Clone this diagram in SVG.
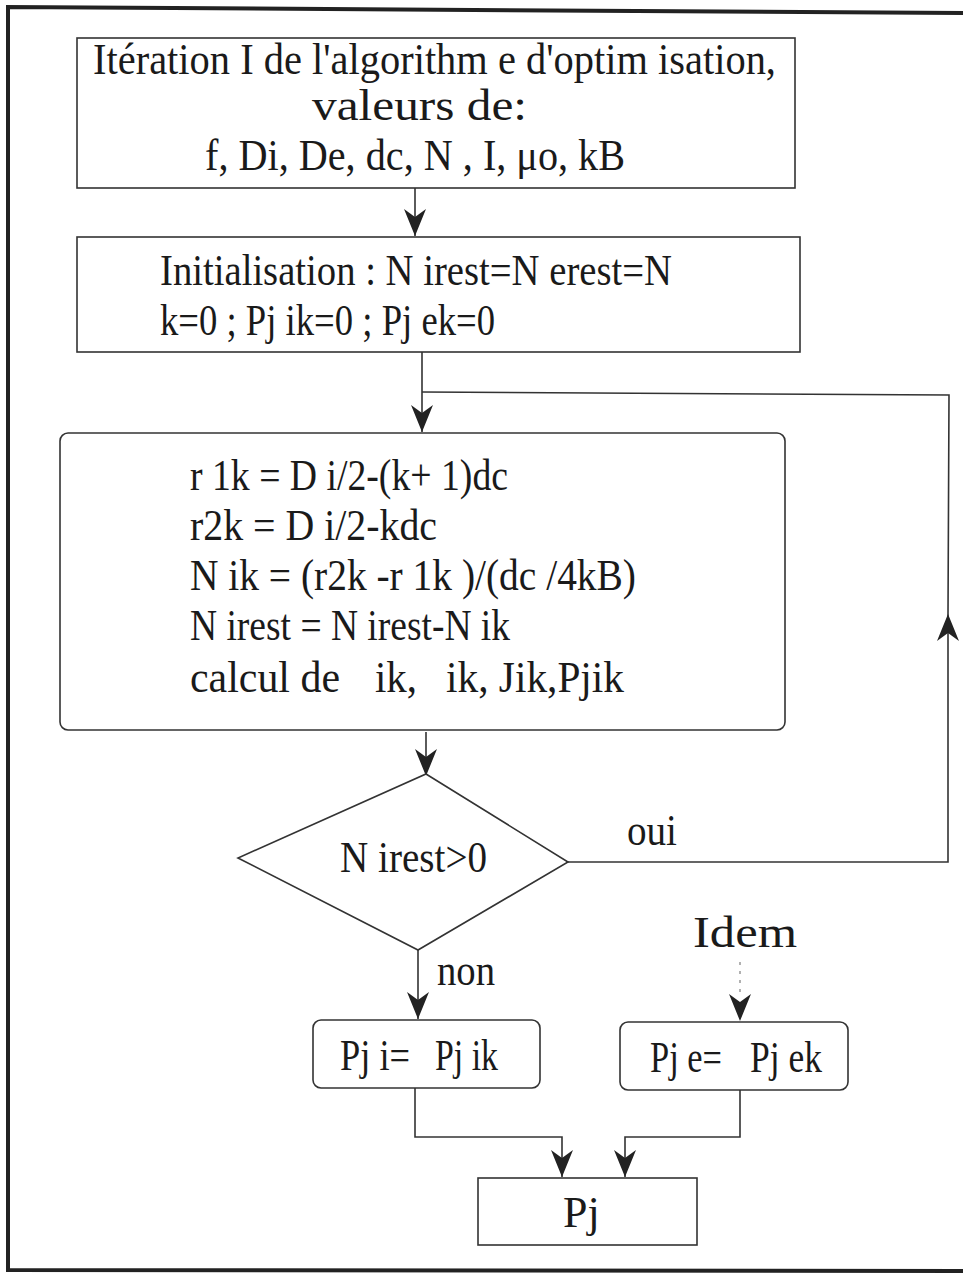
<svg xmlns="http://www.w3.org/2000/svg" width="963" height="1277" viewBox="0 0 963 1277">
<style>
.box{fill:#fff;stroke:#333;stroke-width:1.6}
.ln{fill:none;stroke:#333;stroke-width:1.6}
.t{font-family:"Liberation Serif","Times New Roman",serif;fill:#1a1a1a;font-size:44px}
</style>
<defs>
<marker id="arr" markerUnits="userSpaceOnUse" viewBox="-28 -12 30 24" refX="0" refY="0" markerWidth="30" markerHeight="24" orient="auto">
<path d="M0,0 L-27,-11 L-19,0 L-27,11 z" fill="#222"/>
</marker>
</defs>
<rect width="963" height="1277" fill="#fff"/>
<path d="M963,13 L8,7 L8,1270 L963,1271" fill="none" stroke="#222" stroke-width="4"/>
<g id="connectors">
<path class="ln" d="M415,188 L415,236" marker-end="url(#arr)"/>
<path class="ln" d="M422,352 L422,432" marker-end="url(#arr)"/>
<path class="ln" d="M568,862 L948,862 L948,614" marker-end="url(#arr)"/>
<path class="ln" d="M948,614 L949,395 L422,392"/>
<path class="ln" d="M426,732 L426,776" marker-end="url(#arr)"/>
<path class="ln" d="M418,950 L418,1019" marker-end="url(#arr)"/>
<path d="M740,962 L740,998" fill="none" stroke="#888" stroke-width="1.3" stroke-dasharray="3,6"/>
<path d="M740,996 L740,1021" fill="none" stroke="none" marker-end="url(#arr)"/>
<path class="ln" d="M415,1088 L415,1137 L562,1137 L562,1177" marker-end="url(#arr)"/>
<path class="ln" d="M740,1090 L740,1137 L625,1137 L625,1177" marker-end="url(#arr)"/>
</g>
<g id="n1">
<rect class="box" x="77" y="38" width="718" height="150"/>
<text class="t" x="93" y="74" font-size="46" textLength="683" lengthAdjust="spacingAndGlyphs">Itération I de l'algorithm e d'optim isation,</text>
<text class="t" x="312" y="120" font-size="48" textLength="215" lengthAdjust="spacingAndGlyphs">valeurs de:</text>
<text class="t" x="205" y="170" font-size="46" textLength="420" lengthAdjust="spacingAndGlyphs">f, Di, De, dc, N , I, μo, kB</text>
</g>
<g id="n2">
<rect class="box" x="77" y="237" width="723" height="115"/>
<text class="t" x="160" y="285" textLength="512" lengthAdjust="spacingAndGlyphs">Initialisation : N irest=N erest=N</text>
<text class="t" x="160" y="335" textLength="335" lengthAdjust="spacingAndGlyphs">k=0 ; Pj ik=0 ; Pj ek=0</text>
</g>
<g id="n3">
<rect class="box" x="60" y="433" width="725" height="297" rx="8"/>
<text class="t" x="190" y="490" textLength="318" lengthAdjust="spacingAndGlyphs">r 1k = D i/2-(k+ 1)dc</text>
<text class="t" x="190" y="540" textLength="247" lengthAdjust="spacingAndGlyphs">r2k = D i/2-kdc</text>
<text class="t" x="190" y="590" textLength="446" lengthAdjust="spacingAndGlyphs">N ik = (r2k -r 1k )/(dc /4kB)</text>
<text class="t" x="190" y="640" textLength="320" lengthAdjust="spacingAndGlyphs">N irest = N irest-N ik</text>
<text class="t" y="692"><tspan x="190" textLength="150" lengthAdjust="spacingAndGlyphs">calcul de</tspan><tspan x="375" textLength="42" lengthAdjust="spacingAndGlyphs">ik,</tspan><tspan x="446" textLength="178" lengthAdjust="spacingAndGlyphs">ik, Jik,Pjik</tspan></text>
</g>
<g id="n4">
<polygon class="box" points="426,774 568,862 418,950 238,858"/>
<text class="t" x="340" y="872" textLength="147" lengthAdjust="spacingAndGlyphs">N irest&gt;0</text>
</g>
<g id="labels">
<text class="t" x="627" y="845" textLength="50" lengthAdjust="spacingAndGlyphs">oui</text>
<text class="t" x="437" y="985" textLength="58" lengthAdjust="spacingAndGlyphs">non</text>
<text class="t" x="693" y="947" font-size="60" textLength="104" lengthAdjust="spacingAndGlyphs">Idem</text>
</g>
<g id="n5">
<rect class="box" x="313" y="1020" width="227" height="68" rx="8"/>
<text class="t" y="1070"><tspan x="340" textLength="70" lengthAdjust="spacingAndGlyphs">Pj i=</tspan><tspan x="435" textLength="63" lengthAdjust="spacingAndGlyphs">Pj ik</tspan></text>
</g>
<g id="n6">
<rect class="box" x="620" y="1022" width="228" height="68" rx="8"/>
<text class="t" y="1072"><tspan x="650" textLength="72" lengthAdjust="spacingAndGlyphs">Pj e=</tspan><tspan x="750" textLength="72" lengthAdjust="spacingAndGlyphs">Pj ek</tspan></text>
</g>
<g id="n7">
<rect class="box" x="478" y="1178" width="219" height="67"/>
<text class="t" x="563" y="1227" font-size="54">Pj</text>
</g>
</svg>
